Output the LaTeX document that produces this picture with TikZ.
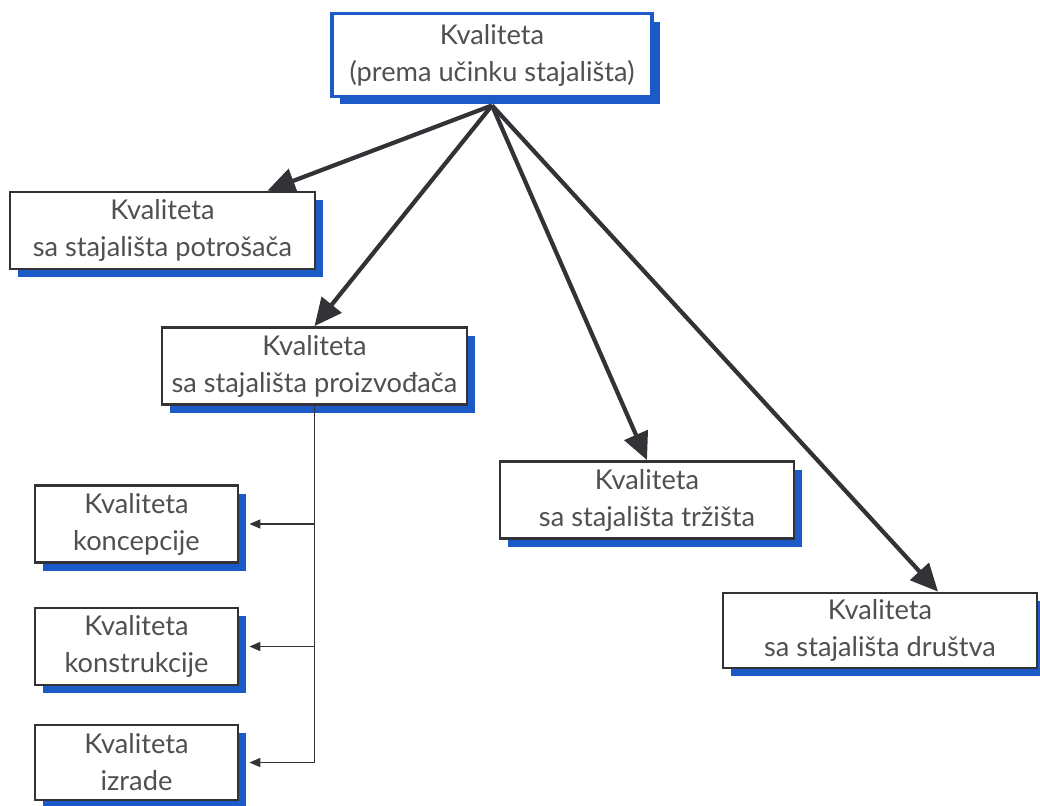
\documentclass[tikz,border=0pt]{standalone}
\usepackage{fontspec}
\setmainfont{Lato}
\usetikzlibrary{arrows.meta,shadows}

\definecolor{shadowblue}{RGB}{28,90,200}
\definecolor{linegray}{RGB}{50,50,55}
\definecolor{textgray}{RGB}{80,80,80}

\begin{document}
\begin{tikzpicture}[x=0.02cm, y=-0.02cm,
  box/.style={draw=linegray, line width=1.6pt, fill=white, align=center, text=textgray,
    font=\fontsize{15.5}{21}\selectfont, minimum height=1.54cm, inner sep=0pt,
    drop shadow={shadow xshift=0.16cm, shadow yshift=-0.16cm, fill=shadowblue, opacity=1}},
  topbox/.style={box, draw=shadowblue, line width=2.2pt},
  bigarrow/.style={draw=linegray, line width=2.4pt, -{Triangle[length=0.55cm,width=0.5cm]}},
  smallarrow/.style={draw=linegray, line width=0.9pt, -{Triangle[length=0.22cm,width=0.18cm]}}]
\useasboundingbox (0,0) rectangle (1040,805);

% boxes
\node[topbox, minimum width=6.4cm, minimum height=1.66cm] (top) at (492,55) {Kvaliteta\\(prema učinku stajališta)};
\node[box, minimum width=6.1cm] (potr) at (162.5,230.5) {Kvaliteta\\sa stajališta potrošača};
\node[box, minimum width=6.1cm] (proiz) at (314.5,366) {Kvaliteta\\sa stajališta proizvođača};
\node[box, minimum width=5.88cm] (trz) at (647,500) {Kvaliteta\\sa stajališta tržišta};
\node[box, minimum width=6.28cm, minimum height=1.5cm] (drus) at (880,630.5) {Kvaliteta\\sa stajališta društva};
\node[box, minimum width=4.06cm] (konc) at (136.5,524) {Kvaliteta\\koncepcije};
\node[box, minimum width=4.06cm] (konst) at (136.5,646.5) {Kvaliteta\\konstrukcije};
\node[box, minimum width=4.06cm, minimum height=1.5cm] (izr) at (136.5,762.5) {Kvaliteta\\izrade};

% arrows from the top box
\coordinate (src) at ([yshift=-0.14cm]top.south);
\draw[bigarrow] (src) -- (potr);
\draw[bigarrow] (src) -- (proiz.north);
\draw[bigarrow] (src) -- (trz.north);
\draw[bigarrow] (src) -- ([xshift=1.16cm]drus.north);

% producer branch
\draw[smallarrow] (proiz.south) |- ([xshift=0.2cm]izr.east);
\foreach \b in {konc, konst}
    \draw[smallarrow] (proiz.south |- \b.east) -- ([xshift=0.2cm]\b.east);
\end{tikzpicture}
\end{document}
